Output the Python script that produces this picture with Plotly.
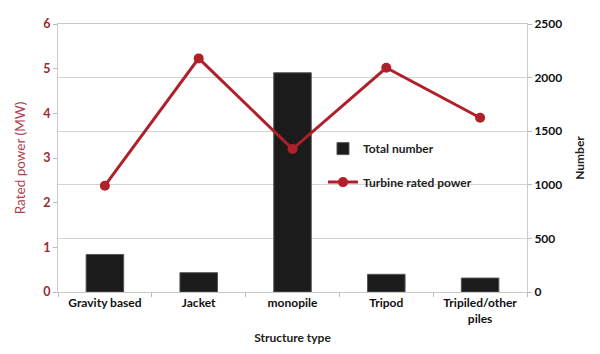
import plotly.graph_objects as go

categories = ["Gravity based", "Jacket", "monopile", "Tripod", "Tripiled/other<br>piles"]
total_number = [350, 180, 2045, 165, 130]
rated_power = [2.38, 5.23, 3.2, 5.02, 3.9]

FONT = "Lato"
RED = "#b0202a"

fig = go.Figure()
fig.add_trace(go.Bar(
    x=categories, y=total_number, name="Total number",
    marker=dict(color="#1b1b1b", line=dict(color="#555555", width=1)),
    width=0.4, yaxis="y", legend="legend",
))
fig.add_trace(go.Scatter(
    x=categories, y=rated_power, name="Turbine rated power",
    mode="lines+markers",
    line=dict(color=RED, width=3),
    marker=dict(color=RED, size=10),
    yaxis="y2", legend="legend2",
))

fig.update_layout(
    width=600, height=354,
    margin=dict(l=58, r=73, t=24, b=60),
    paper_bgcolor="white", plot_bgcolor="white",
    font=dict(family=FONT, size=12, color="#222222"),
    showlegend=True,
    xaxis=dict(
        type="category",
        title=dict(text="<b>Structure type</b>", font=dict(size=12, color="#222222"), standoff=8),
        tickfont=dict(size=12, color="#111111", weight="bold"),
        ticks="outside", tickson="boundaries", ticklen=4, tickcolor="#bbbbbb",
        showline=True, linecolor="#c8c8c8", linewidth=1, mirror=True,
        showgrid=False,
    ),
    yaxis=dict(
        side="right", range=[0, 2500], dtick=500,
        title=dict(text="<b>Number</b>", font=dict(size=12, color="#222222"), standoff=14),
        tickfont=dict(size=12, color="#111111", weight="bold"),
        ticks="outside", ticklen=4, tickcolor="#bbbbbb",
        showline=True, linecolor="#cccccc", linewidth=1,
        showgrid=True, gridcolor="#d4d4d4", gridwidth=1,
        zeroline=False,
    ),
    yaxis2=dict(
        overlaying="y", side="left", range=[0, 6], dtick=1,
        title=dict(text="Rated power (MW)", font=dict(size=13.5, color="#b0404c"), standoff=14),
        tickfont=dict(size=12.5, color="#9a2a36", weight="bold"),
        ticks="outside", ticklen=4, tickcolor="#bbbbbb",
        showline=True, linecolor="#cccccc", linewidth=1,
        showgrid=False, zeroline=False,
    ),
    legend=dict(
        x=0.565, y=0.535, xanchor="left", yanchor="middle",
        bgcolor="rgba(0,0,0,0)", font=dict(size=12, color="#222222", weight="bold"),
        itemwidth=30,
    ),
    legend2=dict(
        x=0.565, y=0.41, xanchor="left", yanchor="middle",
        bgcolor="rgba(0,0,0,0)", font=dict(size=12, color="#222222", weight="bold"),
        itemwidth=30,
    ),
)

fig.write_html("out.html")
